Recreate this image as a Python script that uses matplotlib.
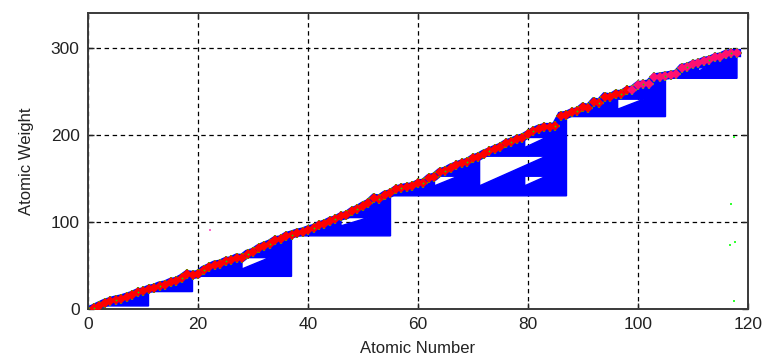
import numpy as np
import matplotlib
matplotlib.use("Agg")
import matplotlib.pyplot as plt
from matplotlib.path import Path
from matplotlib.patches import PathPatch

plt.rcParams['font.family'] = ['Liberation Sans', 'DejaVu Sans']
plt.rcParams['lines.scale_dashes'] = False

# element data: atomic number and standard atomic weight
atomic_number = np.arange(1, 119)
atomic_weight = np.array([
    1.008, 4.003, 6.94, 9.012, 10.81, 12.011, 14.007, 15.999, 18.998, 20.180,
    22.990, 24.305, 26.982, 28.085, 30.974, 32.06, 35.45, 39.948, 39.098, 40.078,
    44.956, 47.867, 50.942, 51.996, 54.938, 55.845, 58.933, 58.693, 63.546, 65.38,
    69.723, 72.630, 74.922, 78.971, 79.904, 83.798, 85.468, 87.62, 88.906, 91.224,
    92.906, 95.95, 98, 101.07, 102.91, 106.42, 107.87, 112.41, 114.82, 118.71,
    121.76, 127.60, 126.90, 131.29, 132.91, 137.33, 138.91, 140.12, 140.91, 144.24,
    145, 150.36, 151.96, 157.25, 158.93, 162.50, 164.93, 167.26, 168.93, 173.05,
    174.97, 178.49, 180.95, 183.84, 186.21, 190.23, 192.22, 195.08, 196.97, 200.59,
    204.38, 207.2, 208.98, 209, 210, 222, 223, 226, 227, 232.04,
    231.04, 238.03, 237, 244, 243, 247, 247, 251, 252, 257,
    258, 259, 266, 267, 268, 269, 270, 277, 278, 281,
    282, 285, 286, 289, 290, 293, 294, 294])

# blue blocks: first/last atomic number and floor weight
seg_start = [1, 11, 19, 37, 55, 87, 105]
seg_end = [11, 19, 37, 55, 87, 105, 118]
seg_floor = [3.5, 20, 37.5, 84, 130, 221, 265]

# white gaps inside the blocks (right triangles)
gap_z0 = [28.0, 46.0, 63.0, 71.2, 79.4, 79.4, 96.3, 111.0]
gap_z1 = [33.0, 51.0, 67.3, 83.3, 83.3, 83.3, 101.0, 112.4]
gap_top = [59.0, 105.0, 152.5, 175.5, 152.5, 197.0, 241.0, 277.0]
gap_bottom = [46.0, 95.5, 141.5, 141.5, 141.5, 185.5, 229.5, 273.5]

# stray points
green_z = [117.5, 116.9, 117.6, 116.8, 117.5]
green_w = [197.3, 120.7, 77.0, 73.6, 8.8]
pink_z = [22.2]
pink_w = [90.8]

fig = plt.figure(figsize=(7.62, 3.58), dpi=100)
ax = fig.add_axes([0.1155, 0.1369, 0.8661, 0.8268])


def ring(pts, clockwise):
    pts = np.asarray(pts, dtype=float)
    x, y = pts[:, 0], pts[:, 1]
    area = 0.5 * np.sum(x * np.roll(y, -1) - np.roll(x, -1) * y)
    if (area < 0) != clockwise:
        pts = pts[::-1]
    return Path(np.vstack([pts, pts[:1]]), closed=True)


paths = []
for s, e, f in zip(seg_start, seg_end, seg_floor):
    m = (atomic_number >= s) & (atomic_number <= e)
    top = np.column_stack([atomic_number[m], atomic_weight[m]])
    pts = np.vstack([[[s, f]], top, [[e, f]]])
    paths.append(ring(pts, clockwise=True))
for z0, z1, t, b in zip(gap_z0, gap_z1, gap_top, gap_bottom):
    paths.append(ring([[z0, t], [z1, t], [z0, b]], clockwise=False))

blocks = PathPatch(Path.make_compound_path(*paths), facecolor='#0000ff',
                   edgecolor='#0000ff', linewidth=1.0, zorder=2)
ax.add_patch(blocks)
ax.plot(atomic_number, atomic_weight, color='#0000ff', lw=6,
        solid_joinstyle='miter', zorder=2)

heavy = atomic_number >= 99
ax.plot(atomic_number, atomic_weight, '+', color='#00ee00', ms=6.5, mew=1.6, zorder=3)
ax.plot(atomic_number[~heavy], atomic_weight[~heavy], 'D', color='#ff0000',
        ms=4.6, mew=0, zorder=4)
ax.plot(atomic_number[heavy], atomic_weight[heavy], 'D', color='#ff1070',
        ms=4.8, mew=0, zorder=4)
ax.plot(atomic_number[::4], atomic_weight[::4], '.', color='#00ee00',
        ms=2.5, mew=0, zorder=5)
ax.plot(green_z, green_w, 's', color='#33ff33', ms=1.8, mew=0, zorder=4)
ax.plot(pink_z, pink_w, 's', color='#ff66cc', ms=1.8, mew=0, zorder=4)

ax.set_xlim(0, 120)
ax.set_ylim(0, 340)
ax.set_xticks(range(0, 121, 20))
ax.set_yticks([0, 100, 200, 300])
ax.grid(True, color='black', linestyle=(0, (3.2, 2.6)), linewidth=0.9)
ax.set_axisbelow(True)
ax.tick_params(direction='in', top=True, right=True, length=4, width=1,
               labelsize=12.5, colors='#222222', pad=6)
for sp in ax.spines.values():
    sp.set_color('#3a3a3a')
    sp.set_linewidth(1.4)
ax.set_xlabel('Atomic Number', fontsize=12, color='#222222', labelpad=6)
ax.set_ylabel('Atomic Weight', fontsize=12, color='#222222', labelpad=12)

fig.savefig('out.png', dpi=100)
